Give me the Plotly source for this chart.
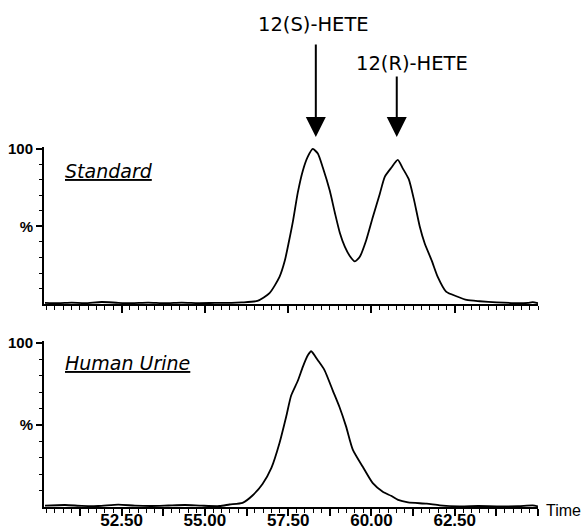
import plotly.graph_objects as go

# ---- data ----
std_time = [50.20, 50.60, 51.00, 51.40, 51.90, 52.40, 52.80, 53.30, 53.80, 54.30, 54.80,
            55.30, 55.80, 56.10, 56.58, 56.94, 57.24, 57.40, 57.52, 57.64, 57.79, 57.94,
            58.09, 58.24, 58.39, 58.54, 58.75, 58.90, 59.05, 59.20, 59.35, 59.50, 59.65,
            59.84, 60.04, 60.25, 60.40, 60.60, 60.79, 60.94, 61.12, 61.28, 61.45, 61.60,
            61.81, 61.99, 62.24, 62.59, 62.86, 63.25, 63.76, 64.45, 64.70, 64.84, 65.00]
std_pct = [0.8, 0.6, 0.9, 0.6, 1.3, 0.8, 0.6, 0.9, 0.5, 0.9, 0.6,
           0.7, 0.7, 1.0, 2.0, 7.0, 17.5, 28.0, 40.0, 53.0, 72.0, 86.0,
           95.0, 100.0, 97.0, 88.0, 73.0, 59.0, 46.0, 37.0, 31.0, 27.5, 30.5,
           41.0, 56.0, 71.0, 82.0, 88.0, 93.0, 87.5, 80.5, 67.0, 50.0, 39.0,
           28.0, 17.5, 8.0, 4.7, 2.6, 1.8, 1.1, 0.5, 0.8, 1.2, 0.5]

urine_time = [50.20, 50.80, 51.30, 51.80, 52.40, 52.90, 53.40, 53.90, 54.40, 54.90,
              55.44, 55.74, 56.13, 56.43, 56.73, 57.00, 57.24, 57.44, 57.59, 57.79,
              57.94, 58.09, 58.19, 58.39, 58.59, 58.84, 59.04, 59.24, 59.44, 59.74,
              60.04, 60.34, 60.59, 60.80, 61.10, 61.66, 62.05, 62.65, 63.20, 63.80,
              64.40, 64.84, 65.00]
urine_pct = [0.8, 1.2, 0.7, 0.6, 1.4, 0.8, 0.6, 0.9, 1.2, 0.8,
             0.6, 1.5, 2.5, 7.0, 14.0, 24.0, 39.0, 55.0, 68.0, 77.0,
             85.5, 92.5, 95.0, 89.5, 83.5, 71.0, 61.0, 49.0, 35.0, 24.5,
             14.5, 9.3, 6.8, 4.3, 2.8, 2.0, 1.0, 0.4, 0.6, 0.4,
             0.5, 1.0, 0.4]

x_major = [51.25, 52.50, 53.75, 55.00, 56.25, 57.50, 58.75, 60.00, 61.25, 62.50, 63.75, 65.00]
x_major_text = ["", "52.50", "", "55.00", "", "57.50", "", "60.00", "", "62.50", "", ""]
y_major = [50, 100]
y_major_text = ["%", "100"]
y_minor = [10, 20, 30, 40, 60, 70, 80, 90]

peak_labels = ["12(S)-HETE", "12(R)-HETE"]
peak_times = [58.33, 60.76]
panel_labels = ["Standard", "Human Urine"]
x_title = "Time"

# ---- figure ----
fig = go.Figure()
fig.add_trace(go.Scatter(x=std_time, y=std_pct, mode="lines", xaxis="x", yaxis="y",
                         line=dict(color="black", width=1.8, shape="spline", smoothing=0.6),
                         hoverinfo="skip", showlegend=False))
fig.add_trace(go.Scatter(x=urine_time, y=urine_pct, mode="lines", xaxis="x2", yaxis="y2",
                         line=dict(color="black", width=1.8, shape="spline", smoothing=0.6),
                         hoverinfo="skip", showlegend=False))

xrange = [50.17, 65.0]
tickfont_x = dict(family="Liberation Sans", size=17, color="black", weight="bold")
common_x = dict(range=xrange, showline=True, linecolor="black", linewidth=2,
                ticks="outside", tickmode="array", tickvals=x_major, ticktext=x_major_text,
                ticklen=7, tickwidth=1.5, tickcolor="black", showgrid=False, zeroline=False,
                minor=dict(tickmode="linear", tick0=50.0, dtick=0.25, ticks="outside",
                           ticklen=4, tickwidth=1.2, tickcolor="black", showgrid=False),
                tickfont=tickfont_x, automargin=False, fixedrange=True)
common_y = dict(range=[0, 101], showline=True, linecolor="black", linewidth=2,
                ticks="outside", tickmode="array", tickvals=y_major, ticktext=y_major_text,
                ticklen=6, tickwidth=1.5, tickcolor="black", showgrid=False, zeroline=False,
                minor=dict(tickmode="array", tickvals=y_minor, ticks="outside",
                           ticklen=3, tickwidth=1.2, tickcolor="black", showgrid=False),
                tickfont=dict(family="Liberation Sans", size=15, color="black", weight="bold"),
                automargin=False, fixedrange=True, ticklabelstandoff=0)

fig.update_layout(
    width=585, height=527,
    margin=dict(l=44, r=47, t=0, b=0),
    paper_bgcolor="white", plot_bgcolor="white",
    xaxis=dict(common_x, domain=[0, 1], anchor="y", showticklabels=False),
    yaxis=dict(common_y, domain=[0.4231, 0.7203], anchor="x"),
    xaxis2=dict(common_x, domain=[0, 1], anchor="y2", showticklabels=True,
                ticklabelstandoff=-10),
    yaxis2=dict(common_y, domain=[0.0380, 0.3522], anchor="x2"),
)

font_lbl = dict(family="DejaVu Sans", size=19.5, color="black")
# peak labels and arrows
fig.add_annotation(x=58.26, y=0.9526, xref="x", yref="paper", text=peak_labels[0],
                   showarrow=False, font=font_lbl, xanchor="center", yanchor="middle")
fig.add_annotation(x=61.21, y=0.880, xref="x", yref="paper", text=peak_labels[1],
                   showarrow=False, font=font_lbl, xanchor="center", yanchor="middle")
fig.add_annotation(x=peak_times[0], y=0.740, xref="x", yref="paper", text="",
                   showarrow=True, arrowhead=2, arrowsize=2, arrowwidth=2,
                   arrowcolor="black", ax=0, ay=-94)
fig.add_annotation(x=peak_times[1], y=0.740, xref="x", yref="paper", text="",
                   showarrow=True, arrowhead=2, arrowsize=2, arrowwidth=2,
                   arrowcolor="black", ax=0, ay=-62)

font_panel = dict(family="DejaVu Sans", size=19, color="black")
fig.add_annotation(x=50.73, y=0.676, xref="x", yref="paper",
                   text="<i><u>" + panel_labels[0] + "</u></i>",
                   showarrow=False, font=font_panel, xanchor="left", yanchor="middle")
fig.add_annotation(x=50.73, y=0.311, xref="x2", yref="paper",
                   text="<i><u>" + panel_labels[1] + "</u></i>",
                   showarrow=False, font=font_panel, xanchor="left", yanchor="middle")
fig.add_annotation(x=1.0121, y=1 - 510 / 527, xref="paper", yref="paper", text=x_title,
                   showarrow=False, font=dict(family="Liberation Sans", size=16, color="black"),
                   xanchor="left", yanchor="middle")

fig.write_html("out.html", config={"displayModeBar": False},
               post_script="document.body.style.margin='0px';")
